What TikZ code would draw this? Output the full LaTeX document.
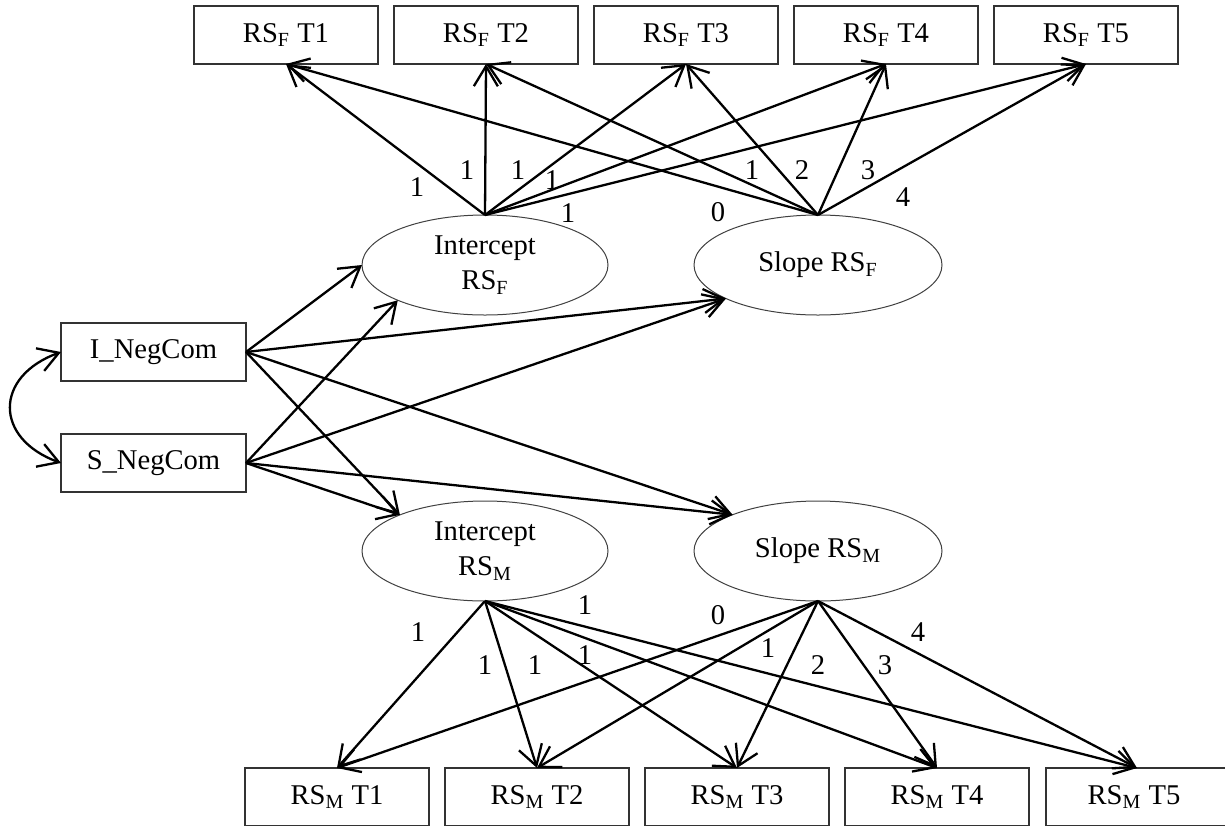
\documentclass[tikz,border=0pt]{standalone}
\usepackage{fontspec}
\setmainfont{Liberation Serif}
\usetikzlibrary{arrows.meta,shapes.geometric}
\newcommand{\dgfont}{\fontsize{14.3}{17.5}\selectfont}
\tikzset{
  obs/.style={draw=black!80, line width=0.7pt, minimum width=92pt, minimum height=29pt, inner sep=0pt, outer sep=0pt, font=\dgfont},
  lat/.style={ellipse, draw=black!75, line width=0.5pt, minimum width=123pt, minimum height=50pt, inner sep=0pt, outer sep=0pt, align=center, font=\dgfont},
  barb/.tip={Straight Barb[length=10pt,width=12pt]},
  reg/.style={line width=1.15pt, -barb},
  coef/.style={font=\dgfont, inner sep=0pt},
}
\begin{document}
\begin{tikzpicture}[x=0.5pt,y=-0.5pt]
\useasboundingbox (0,0) rectangle (1225,825);
% observed indicators top
\node[obs] (tF1) at (286,35) {RS\textsubscript{F} T1};
\node[obs] (tF2) at (486,35) {RS\textsubscript{F} T2};
\node[obs] (tF3) at (686,35) {RS\textsubscript{F} T3};
\node[obs] (tF4) at (886,35) {RS\textsubscript{F} T4};
\node[obs] (tF5) at (1086,35) {RS\textsubscript{F} T5};
% observed indicators bottom
\node[obs] (bM1) at (337,797) {RS\textsubscript{M} T1};
\node[obs] (bM2) at (537,797) {RS\textsubscript{M} T2};
\node[obs] (bM3) at (737,797) {RS\textsubscript{M} T3};
\node[obs] (bM4) at (937,797) {RS\textsubscript{M} T4};
\node[obs, minimum width=96pt, anchor=west] (bM5) at (1046,797) {\hspace*{-8pt}RS\textsubscript{M} T5};
\coordinate (bM5top) at (1137,768);
% predictors
\node[obs, minimum width=92.5pt] (I) at (153.5,352) {I\_NegCom};
\node[obs, minimum width=92.5pt] (S) at (153.5,463) {S\_NegCom};
% latent growth factors
\node[lat] (iF) at (485,265) {Intercept\\RS\textsubscript{F}};
\node[lat, minimum width=124pt] (sF) at (818,265) {Slope RS\textsubscript{F}};
\node[lat] (iM) at (485,551) {Intercept\\RS\textsubscript{M}};
\node[lat, minimum width=124pt] (sM) at (818,551) {Slope RS\textsubscript{M}};
% loadings
\foreach \k in {1,...,5} {
  \draw[reg] (iF.north) -- (tF\k.south);
  \draw[reg] (sF.north) -- (tF\k.south);
}
\foreach \k in {1,...,4} {
  \draw[reg] (iM.south) -- (bM\k.north);
  \draw[reg] (sM.south) -- (bM\k.north);
}
\draw[reg] (iM.south) -- (bM5top);
\draw[reg] (sM.south) -- (bM5top);
% regressions
\draw[reg] (I.east) -- (iF.west);
\draw[reg] (I.east) -- (sF.200);
\draw[reg] (I.east) -- (iM.157);
\draw[reg] (I.east) -- (sM.157);
\draw[reg] (S.east) -- (iF.202);
\draw[reg] (S.east) -- (sF.200);
\draw[reg] (S.east) -- (iM.157);
\draw[reg] (S.east) -- (sM.157);
% covariance
\draw[line width=1.15pt, barb-barb]
  (I.west) to[out=200,in=160,looseness=1.65] (S.west);
% coefficients top
\node[coef] (a1) at (417,187) {1};
\node[coef] (a2) at (467,170) {1};
\node[coef] (a3) at (518,170) {1};
\node[coef] (a4) at (552,180) {1};
\node[coef] (a5) at (568,213) {1};
\node[coef] (b1) at (718,212) {0};
\node[coef] (b2) at (752,170) {1};
\node[coef] (b3) at (802,170) {2};
\node[coef] (b4) at (868,170) {3};
\node[coef] (b5) at (903,197) {4};
% coefficients bottom
\node[coef] (c1) at (418,632) {1};
\node[coef] (c2) at (485,665) {1};
\node[coef] (c3) at (535,665) {1};
\node[coef] (c4) at (585,655) {1};
\node[coef] (c5) at (585,605) {1};
\node[coef] (d1) at (718,615) {0};
\node[coef] (d2) at (768,648) {1};
\node[coef] (d3) at (818,665) {2};
\node[coef] (d4) at (885,665) {3};
\node[coef] (d5) at (918,632) {4};
\end{tikzpicture}
\end{document}
